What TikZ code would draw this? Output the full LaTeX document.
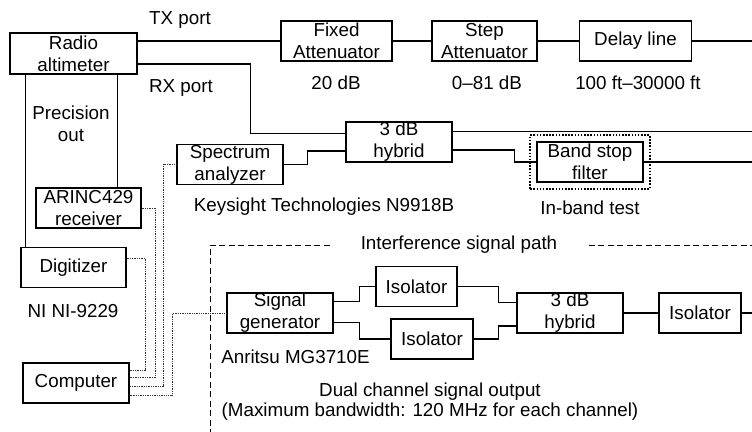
\documentclass[tikz,border=0pt]{standalone}
\usepackage{fontspec}
\setmainfont{Liberation Sans}
\usetikzlibrary{calc,fit}

\begin{document}
\begin{tikzpicture}[x=0.02cm, y=-0.02cm, line width=0.6pt,
		font=\fontsize{10.7}{12.5}\selectfont,
		blk/.style={rectangle, draw, inner sep=0pt, align=center, minimum height=0.8cm, minimum width=2.12cm},
		txt/.style={inner sep=0pt, align=center},
		wire/.style={line width=0.5pt, black!80, dash pattern=on 0.5pt off 0.5pt},
		intf/.style={line width=0.5pt, dash pattern=on 0.12cm off 0.07cm}]
		\useasboundingbox (0,0) rectangle (752,432);
		\coordinate (E) at (752,0);

		\draw
		(73.5,53.5) node [blk, minimum width=2.54cm, minimum height=0.82cm] (RAD) {Radio\\altimeter}
		(336.5,41) node [blk, minimum width=2.22cm] (FixAtt) {Fixed\\Attenuator}
		(484.5,41) node [blk, minimum width=2.1cm] (StepAtt) {Step\\Attenuator}
		(635.5,41) node [blk, minimum width=2.24cm] (Delay) {Delay line};
		\draw (RAD.east |- FixAtt.west) -- (FixAtt) -- (StepAtt) -- (Delay) -- (Delay -| E);

		\draw
		(399,142) node [blk] (Hyb1) {3 dB\\hybrid}
		(590,162) node [blk] (BSF) {Band stop\\filter}
		(230,164.5) node [blk] (SpecAn) {Spectrum\\analyzer};
		\node [fit=(BSF), draw, line width=0.9pt, dash pattern=on 0.9pt off 0.9pt, inner sep=0.125cm] (BSFbox) {};
		\draw ($(RAD.east)+(0,10.5)$) -- ++(113,0) |- ($(Hyb1.west)+(0,-8.7)$);
		\draw ($(Hyb1.east)+(0,-10.3)$) coordinate (H1a) -- (H1a -| E);
		\draw ($(Hyb1.east)+(0,8)$) -- ++(61.6,0) |- (BSF.west);
		\draw (BSF) -- (BSF -| E);
		\draw (SpecAn.east) -- ++(23.7,0) |- ($(Hyb1.west)+(0,9)$);

		\draw
		(88.5,208) node [blk, minimum width=2.1cm] (ARINC) {ARINC429\\receiver}
		(73.5,267.5) node [blk, minimum width=2.1cm] (Digi) {Digitizer}
		(76,383) node [blk] (Comp) {Computer};
		\draw ($(RAD.south west)+(16,0)$) coordinate (PA) -- (PA |- Digi.north);
		\draw ($(RAD.south west)+(108.3,0)$) coordinate (PB) -- (PB |- ARINC.north);

		\draw
		(280,313) node [blk] (SigGen) {Signal\\generator}
		(416.5,286.5) node [blk, minimum width=1.62cm] (Iso1) {Isolator}
		(432,339) node [blk, minimum width=1.64cm] (Iso2) {Isolator}
		(570,313) node [blk] (Hyb2) {3 dB\\hybrid}
		(700,313) node [blk, minimum width=1.64cm] (Iso3) {Isolator};
		\draw ($(SigGen.east)+(0,-11.3)$) -- ++(26.3,0) |- (Iso1.west);
		\draw ($(SigGen.east)+(0,9.7)$) -- ++(26.3,0) |- (Iso2.west);
		\draw (Iso1.east) -- ++(41,0) |- ($(Hyb2.west)+(0,-10.3)$);
		\draw (Iso2.east) -- ++(25,0) |- ($(Hyb2.west)+(0,13)$);
		\draw (Hyb2) -- (Iso3) -- (Iso3 -| E);

		\draw [wire] ($(Digi.east)+(0,-9.2)$) -- ++(19,0) |- ($(Comp.east)+(0,-13)$);
		\draw [wire] (ARINC.east) -- ++(14,0) |- ($(Comp.east)+(0,-5.3)$);
		\draw [wire] (SpecAn.west) -- ++(-12.7,0) |- ($(Comp.east)+(0,3)$);
		\draw [wire] (SigGen.west) -- ++(-53.7,0) |- ($(Comp.east)+(0,12.7)$);

		\draw
		(180,20) node [txt] (TXlbl) {TX port}
		(181,88) node [txt] (RXlbl) {RX port}
		(336,83) node [txt] (FixLbl) {20 dB}
		(487,83) node [txt] (StepLbl) {0--81 dB}
		(638,83) node [txt] (DelayLbl) {100 ft--30000 ft}
		(71,124) node [txt] (PrecLbl) {Precision\\out}
		(324,207) node [txt] (SpecLbl) {Keysight Technologies N9918B}
		(590,208) node [txt] (BSFLbl) {In-band test}
		(73,311) node [txt] (DigiLbl) {NI NI-9229}
		(295.5,357) node [txt] (SigLbl) {Anritsu MG3710E}
		(430,401.7) node [txt, font=\fontsize{10.7}{11.4}\selectfont] (DualLbl) {Dual channel signal output\\(Maximum bandwidth: 120 MHz for each channel)}
		(459,245) node [txt] (Intf) {Interference signal path};
		\draw [intf] ([xshift=-0.61cm]Intf.west) -| (210,432);
		\draw [intf] ([xshift=0.62cm]Intf.east) coordinate (IR) -- (IR -| E);
	\end{tikzpicture}
\end{document}
